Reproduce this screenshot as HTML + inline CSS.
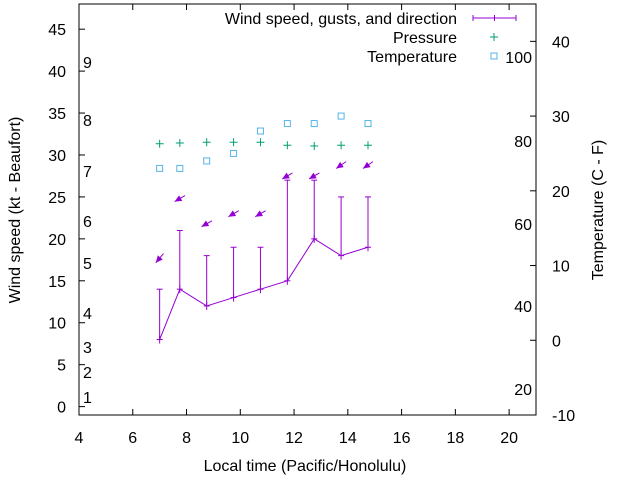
<!DOCTYPE html>
<html><head><meta charset="utf-8"><style>
body{margin:0;background:#fff}
svg text{font-family:"Liberation Sans",sans-serif;font-size:16px;fill:#000}
</style></head><body>
<svg id="c" width="640" height="480" xmlns="http://www.w3.org/2000/svg"></svg>
<script>
const times=[7.0,7.75,8.75,9.75,10.75,11.75,12.75,13.75,14.75];
const wind=[8,14,12,13,14,15,20,18,19];
const gusts=[14,21,18,19,19,27,27,25,25];
const dirY=[17.7,24.8,21.8,23,23,27.5,27.5,28.8,28.8];
const dirDeg=[40,60,60,60,60,60,60,55,55];
const pressure=[26.3,26.4,26.5,26.5,26.5,26.1,26,26.1,26.1];
const temperature=[23,23,24,25,28,29,29,30,29];
const xTicks=[4,6,8,10,12,14,16,18,20];
const yTicks=[0,5,10,15,20,25,30,35,40,45];
const y2Ticks=[-10,0,10,20,30,40];
const beaufort=[[1,397],[2,372],[3,347],[4,313],[5,263],[6,221],[7,171],[8,120],[9,62]];
const fahr=[[100,57],[80,141],[60,224],[40,306],[20,389]];
const L=79,R=536,T=4,B=415;
const X=v=>L+(v-4)/(21-4)*(R-L);
const Y=v=>B-(v+1)/(48+1)*(B-T);
const Y2=v=>B-(v+10)/(45+10)*(B-T);
const svg=document.getElementById('c');
function el(t,a,p){const e=document.createElementNS('http://www.w3.org/2000/svg',t);for(const k in a)e.setAttribute(k,a[k]);(p||svg).appendChild(e);return e;}
function txt(s,x,y,anchor,name){const e=el('text',{x:x,y:y,'text-anchor':anchor||'start'});e.textContent=s;

return e;}
const fr=el('rect',{x:L,y:T,width:R-L,height:B-T,fill:'none',stroke:'#000','stroke-width':1});


xTicks.forEach(v=>{const x=X(v);el('line',{x1:x,y1:B,x2:x,y2:B-6,stroke:'#000'});el('line',{x1:x,y1:T,x2:x,y2:T+6,stroke:'#000'});txt(String(v),x,443,'middle','x-tick-label');});
yTicks.forEach(v=>{const y=Y(v);el('line',{x1:L,y1:y,x2:L+6,y2:y,stroke:'#000'});txt(String(v),66,y+6,'end','y-tick-label');});
y2Ticks.forEach(v=>{const y=Y2(v);el('line',{x1:R,y1:y,x2:R-6,y2:y,stroke:'#000'});txt(String(v),552,y+6,'start','y2-tick-label');});
beaufort.forEach(b=>txt(String(b[0]),83,b[1]+6,'start','beaufort-label'));
fahr.forEach(f=>txt(String(f[0]),532,f[1]+6,'end','fahrenheit-label'));
const purple='#9400d3';
times.forEach((t,i)=>{const x=X(t);const g=el('g',{stroke:purple,'stroke-width':1});


el('line',{x1:x,y1:Y(wind[i]),x2:x,y2:Y(gusts[i])},g);el('line',{x1:x-3,y1:Y(gusts[i]),x2:x+3,y2:Y(gusts[i])},g);el('line',{x1:x-3,y1:Y(wind[i]),x2:x+3,y2:Y(wind[i])},g);el('line',{x1:x,y1:Y(wind[i])-4,x2:x,y2:Y(wind[i])+4},g);});
const pl=el('polyline',{points:times.map((t,i)=>X(t)+','+Y(wind[i])).join(' '),fill:'none',stroke:purple,'stroke-width':1});


times.forEach((t,i)=>{const cx=X(t),cy=Y(dirY[i]);const r=dirDeg[i]*Math.PI/180;const dx=-Math.sin(r),dy=Math.cos(r);
const x1=cx-dx*6,y1=cy-dy*6,x2=cx+dx*6,y2=cy+dy*6;const g=el('g',{});


el('line',{x1:x1,y1:y1,x2:x2,y2:y2,stroke:purple,'stroke-width':1},g);
const px=-dy,py=dx;const hx=x2-dx*7,hy=y2-dy*7;
el('polygon',{points:`${x2},${y2} ${hx+px*3.2},${hy+py*3.2} ${hx-px*3.2},${hy-py*3.2}`,fill:purple},g);});
times.forEach((t,i)=>{const x=X(t),y=Y2(pressure[i]);const g=el('g',{stroke:'#009e73','stroke-width':1});


el('line',{x1:x-4,y1:y,x2:x+4,y2:y},g);el('line',{x1:x,y1:y-4,x2:x,y2:y+4},g);});
times.forEach((t,i)=>{const x=X(t),y=Y2(temperature[i]);const r=el('rect',{x:x-3,y:y-3,width:6,height:6,fill:'none',stroke:'#56b4e9','stroke-width':1});

});
txt('Wind speed, gusts, and direction',457,24,'end','legend-wind');
const lg=el('g',{stroke:purple});


el('line',{x1:473,y1:18,x2:516,y2:18},lg);[473,494.5,516].forEach(x=>el('line',{x1:x,y1:15,x2:x,y2:21},lg));
txt('Pressure',457,43,'end','legend-pressure');
const pg=el('g',{stroke:'#009e73'});


el('line',{x1:490,y1:37,x2:498,y2:37},pg);el('line',{x1:494,y1:33,x2:494,y2:41},pg);
txt('Temperature',457,62,'end','legend-temperature');
const tr=el('rect',{x:491,y:53,width:6,height:6,fill:'none',stroke:'#56b4e9'});


txt('Local time (Pacific/Honolulu)',305,471,'middle','x-axis-title');
const yt=txt('Wind speed (kt - Beaufort)',0,0,'middle','y-axis-title');yt.setAttribute('transform','translate(20,210) rotate(-90)');
const y2t=txt('Temperature (C - F)',0,0,'middle','y2-axis-title');y2t.setAttribute('transform','translate(603,210) rotate(-90)');
</script>
</body></html>
